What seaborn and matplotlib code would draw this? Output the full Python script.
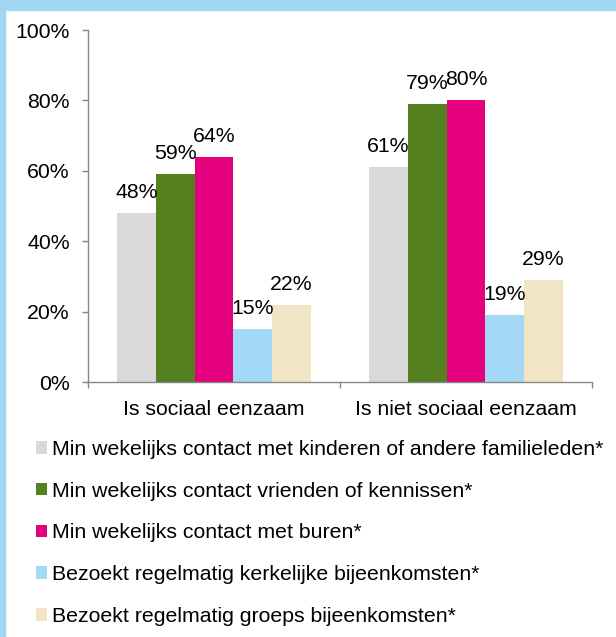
import pandas as pd
import seaborn as sns
import matplotlib.pyplot as plt
from matplotlib.patches import Rectangle

# data
groups = ['Is sociaal eenzaam', 'Is niet sociaal eenzaam']
series = ['Min wekelijks contact met kinderen of andere familieleden*',
          'Min wekelijks contact vrienden of kennissen*',
          'Min wekelijks contact met buren*',
          'Bezoekt regelmatig kerkelijke bijeenkomsten*',
          'Bezoekt regelmatig groeps bijeenkomsten*']
eenzaam = [48, 59, 64, 15, 22]
niet_eenzaam = [61, 79, 80, 19, 29]
yticks = [0, 20, 40, 60, 80, 100]

colors = ['#D9D9D9', '#558020', '#E5007D', '#A3D9F5', '#F2E5C5']

rows = []
for s, a, b in zip(series, eenzaam, niet_eenzaam):
    rows.append([groups[0], s, a])
    rows.append([groups[1], s, b])
df = pd.DataFrame(rows, columns=['group', 'serie', 'value'])

sns.set_style('white')
plt.rcParams['font.family'] = ['Liberation Sans', 'DejaVu Sans']
plt.rcParams['text.color'] = 'black'
plt.rcParams['xtick.labelcolor'] = 'black'
plt.rcParams['ytick.labelcolor'] = 'black'
fontsize = 15.3
axis_color = '#868686'

fig = plt.figure(figsize=(6.16, 6.37), dpi=100)
ax = fig.add_axes([88 / 616, 1 - 382 / 637, 504 / 616, 352 / 637])

sns.barplot(data=df, x='group', y='value', hue='serie', order=groups, hue_order=series,
            palette=dict(zip(series, colors)), width=0.77, saturation=1, ax=ax,
            errorbar=None, linewidth=0)

# value labels
for cont in ax.containers:
    for bar in cont:
        h = bar.get_height()
        ax.annotate('{:.0f}%'.format(h), (bar.get_x() + bar.get_width() / 2, h),
                    xytext=(0, 10.8), textcoords='offset points', ha='center', va='baseline',
                    fontsize=fontsize, color='black')

ax.set_ylim(0, 100)
ax.set_xlim(-0.5, 1.5)
ax.set_yticks(yticks)
ax.set_yticklabels(['{}%'.format(v) for v in yticks])
ax.set_xlabel('')
ax.set_ylabel('')

for side in ['top', 'right']:
    ax.spines[side].set_visible(False)
for side in ['left', 'bottom']:
    ax.spines[side].set_color(axis_color)
    ax.spines[side].set_linewidth(1.0)

ax.tick_params(axis='y', which='major', direction='out', length=4.5, width=1.0,
               color=axis_color, pad=8.5, labelsize=fontsize, left=True)
ax.tick_params(axis='x', which='major', length=0, pad=13, labelsize=fontsize)
ax.set_xticks([-0.5, 0.5, 1.5], minor=True)
ax.tick_params(axis='x', which='minor', direction='out', length=4, width=1.0,
               color=axis_color, bottom=True)

# legend below the chart
handles, labels = ax.get_legend_handles_labels()
ax.legend(handles, labels, loc='upper left', bbox_to_anchor=(36 / 616, 1 - 440 / 637),
          bbox_transform=fig.transFigure, frameon=False, fontsize=fontsize,
          handlelength=0.52, handleheight=0.52, handletextpad=0.24, labelspacing=1.07,
          borderpad=0, borderaxespad=0)

# light blue frame at top and left
fig.patches.append(Rectangle((0, 1 - 10 / 637), 1, 10 / 637, transform=fig.transFigure,
                             color='#A0D8F4', zorder=0))
fig.patches.append(Rectangle((0, 0), 5 / 616, 1, transform=fig.transFigure,
                             color='#A0D8F4', zorder=0))

fig.savefig('out.png', dpi=100)
